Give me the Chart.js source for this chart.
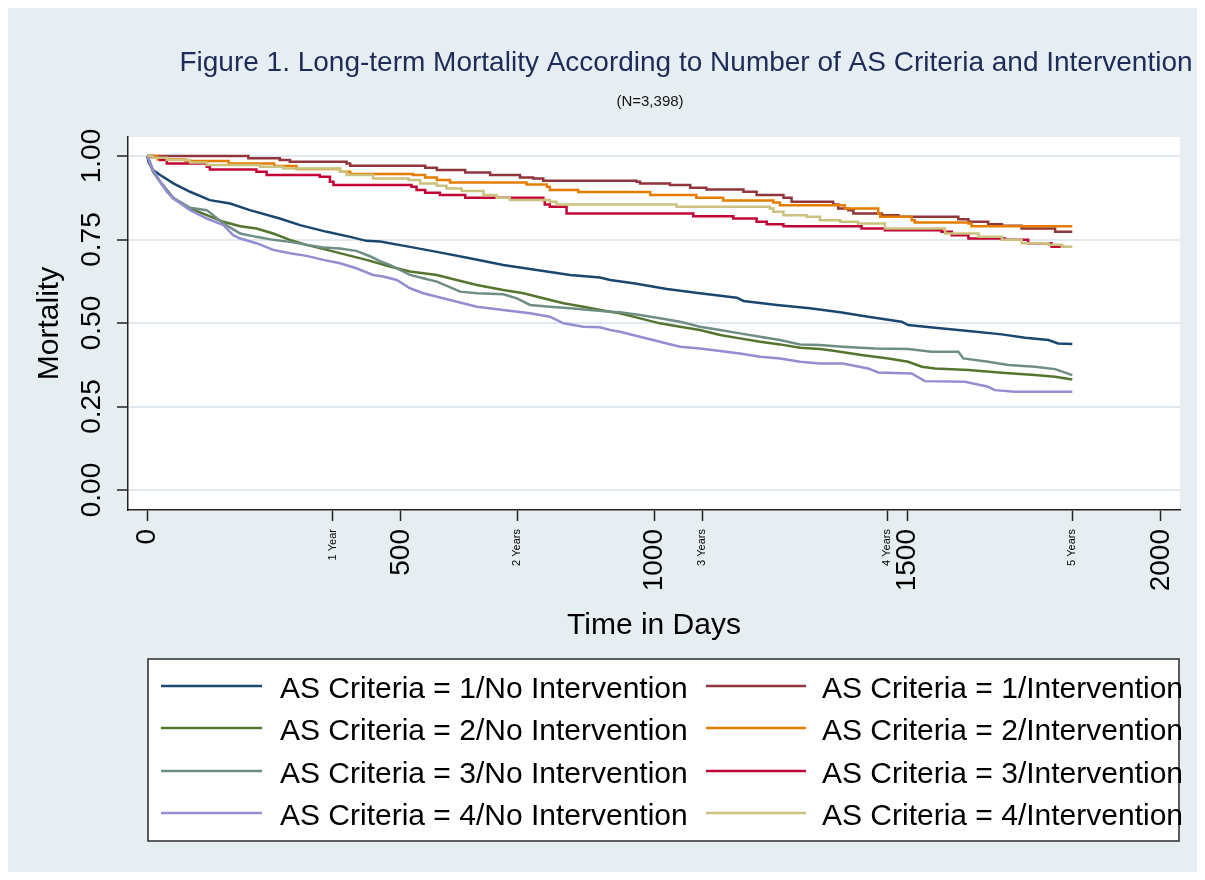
<!DOCTYPE html>
<html>
<head>
<meta charset="utf-8">
<title>Long-term Mortality According to Number of AS Criteria and Intervention</title>
<script src="https://cdn.jsdelivr.net/npm/chart.js@4.4.1/dist/chart.umd.min.js"></script>
<style>
  html, body { margin: 0; padding: 0; background: #ffffff; }
  #wrap { width: 1205px; height: 880px; position: relative; }
  canvas { display: block; }
</style>
</head>
<body>
<div id="wrap"><canvas id="km" width="1205" height="880"></canvas></div>
<script>
// Kaplan-Meier estimates: [day, survival proportion]
const as1NoIntervention = [[0,1],[2,.983],[11,.958],[25,.943],[51,.918],[84,.893],[123,.868],[163,.858],[202,.838],[261,.813],[301,.793],[354,.773],[400,.758],[432,.746],[459,.744],[518,.728],[571,.713],[636,.694],[702,.674],[768,.659],[834,.644],[893,.636],[913,.629],[959,.619],[1025,.602],[1090,.589],[1163,.576],[1176,.566],[1242,.554],[1307,.544],[1367,.532],[1422,.519],[1488,.504],[1501,.494],[1554,.486],[1620,.476],[1686,.466],[1732,.456],[1778,.449],[1797,.439],[1825,.437]];
const as2NoIntervention = [[0,1],[11,.953],[25,.923],[51,.873],[84,.843],[117,.823],[150,.803],[183,.790],[215,.783],[248,.768],[281,.749],[314,.734],[354,.719],[393,.704],[432,.689],[478,.669],[518,.654],[571,.644],[610,.629],[650,.614],[702,.599],[742,.589],[781,.574],[821,.559],[860,.549],[913,.534],[932,.529],[972,.514],[1011,.499],[1051,.489],[1090,.479],[1130,.464],[1169,.454],[1209,.444],[1248,.436],[1288,.426],[1327,.422],[1350,.418],[1409,.404],[1462,.394],[1501,.384],[1528,.369],[1554,.364],[1620,.359],[1686,.351],[1751,.344],[1791,.339],[1825,.331]];
const as3NoIntervention = [[0,1],[11,.953],[25,.923],[51,.875],[84,.845],[117,.838],[150,.798],[183,.768],[215,.758],[248,.749],[281,.743],[314,.734],[347,.726],[380,.723],[412,.716],[439,.700],[459,.685],[478,.674],[518,.644],[544,.634],[571,.624],[617,.594],[650,.589],[702,.586],[729,.574],[755,.554],[794,.549],[834,.544],[873,.539],[913,.534],[932,.532],[972,.524],[1011,.514],[1051,.504],[1090,.489],[1130,.479],[1169,.469],[1209,.459],[1248,.449],[1288,.436],[1327,.434],[1372,.429],[1436,.424],[1501,.422],[1547,.414],[1600,.414],[1610,.394],[1659,.384],[1699,.374],[1751,.369],[1791,.362],[1825,.344]];
const as4NoIntervention = [[0,1],[11,.958],[25,.923],[38,.893],[51,.873],[84,.838],[117,.813],[150,.793],[169,.763],[183,.753],[215,.739],[248,.719],[281,.709],[314,.701],[347,.689],[380,.679],[412,.664],[445,.644],[465,.639],[492,.629],[518,.604],[544,.589],[597,.569],[650,.549],[702,.539],[755,.529],[794,.519],[821,.499],[860,.489],[893,.487],[913,.479],[932,.474],[972,.459],[1011,.444],[1051,.429],[1090,.424],[1130,.416],[1169,.409],[1209,.399],[1248,.394],[1288,.384],[1327,.379],[1372,.379],[1422,.364],[1442,.352],[1508,.349],[1534,.326],[1613,.324],[1659,.309],[1672,.299],[1712,.294],[1825,.294]];
const as1Intervention = [[0,1],[199,.993],[261,.988],[281,.983],[393,.978],[400,.971],[548,.965],[571,.958],[627,.951],[676,.943],[735,.936],[761,.933],[781,.926],[965,.923],[972,.918],[1031,.913],[1071,.905],[1103,.900],[1176,.893],[1202,.883],[1255,.875],[1271,.863],[1353,.855],[1363,.843],[1383,.838],[1393,.828],[1449,.823],[1482,.818],[1600,.811],[1620,.803],[1659,.796],[1686,.791],[1725,.783],[1791,.773],[1825,.773]];
const as2Intervention = [[0,1],[20,.990],[75,.985],[160,.978],[250,.970],[294,.961],[380,.953],[400,.946],[524,.943],[548,.936],[571,.928],[597,.921],[748,.915],[788,.908],[794,.898],[850,.892],[992,.883],[1083,.875],[1136,.867],[1235,.861],[1248,.853],[1376,.843],[1442,.828],[1446,.818],[1508,.808],[1514,.801],[1620,.798],[1626,.790],[1825,.790]];
const as3Intervention = [[0,1],[10,.995],[25,.988],[38,.978],[117,.968],[123,.960],[215,.953],[235,.943],[340,.938],[360,.923],[367,.913],[521,.908],[531,.898],[548,.890],[577,.883],[627,.875],[781,.868],[784,.855],[794,.848],[827,.828],[1077,.820],[1156,.813],[1202,.803],[1222,.796],[1255,.790],[1409,.783],[1455,.778],[1567,.773],[1587,.763],[1620,.753],[1692,.749],[1738,.739],[1784,.728],[1810,.728]];
const as4Intervention = [[0,1],[10,.995],[38,.988],[84,.981],[117,.973],[222,.968],[268,.963],[380,.953],[393,.943],[445,.933],[515,.928],[538,.918],[571,.911],[590,.903],[620,.895],[663,.883],[689,.875],[715,.868],[794,.863],[807,.855],[1044,.848],[1228,.843],[1235,.833],[1255,.823],[1301,.818],[1327,.808],[1367,.803],[1402,.798],[1455,.783],[1574,.768],[1640,.758],[1686,.749],[1725,.739],[1778,.734],[1804,.728],[1825,.728]];

const seriesLabels = [
  'AS Criteria = 1/No Intervention', 'AS Criteria = 1/Intervention',
  'AS Criteria = 2/No Intervention', 'AS Criteria = 2/Intervention',
  'AS Criteria = 3/No Intervention', 'AS Criteria = 3/Intervention',
  'AS Criteria = 4/No Intervention', 'AS Criteria = 4/Intervention'
];
const seriesData = [as1NoIntervention, as1Intervention, as2NoIntervention, as2Intervention,
                    as3NoIntervention, as3Intervention, as4NoIntervention, as4Intervention];
const seriesColors = ['#1a476f', '#90353b', '#55752f', '#e37e00', '#6e8e84', '#c10534', '#938dd2', '#cac27e'];
const seriesStepped = [false, true, false, true, false, true, false, true];

const xTickValues = [0, 365, 500, 730, 1000, 1095, 1460, 1500, 1825, 2000];
const xTickLabels = ['0', '1 Year', '500', '2 Years', '1000', '3 Years', '4 Years', '1500', '5 Years', '2000'];
const yTickValues = [0, 0.25, 0.5, 0.75, 1];
const yTickLabels = ['0.00', '0.25', '0.50', '0.75', '1.00'];

const chartTitle = 'Figure 1. Long-term Mortality According to Number of AS Criteria and Intervention';
const chartSubtitle = '(N=3,398)';

const FONT = '"Liberation Sans", Arial, Helvetica, sans-serif';
const yearTicks = new Set([365, 730, 1095, 1460, 1825]);

const datasets = seriesData.map((pts, i) => ({
  label: seriesLabels[i],
  data: pts.map(p => ({ x: p[0], y: p[1] })),
  borderColor: seriesColors[i],
  backgroundColor: seriesColors[i],
  borderWidth: 2.5,
  stepped: seriesStepped[i] ? 'before' : false,
  pointRadius: 0,
  fill: false,
  order: seriesData.length - 1 - i
}));

// Page background, framed graph region and white plot region
const backgroundPlugin = {
  id: 'regions',
  beforeDraw(chart) {
    const { ctx, chartArea } = chart;
    ctx.save();
    ctx.fillStyle = '#ffffff';
    ctx.fillRect(0, 0, chart.width, chart.height);
    ctx.fillStyle = '#e7eef2';
    ctx.fillRect(8, 8, chart.width - 16, chart.height - 16);
    ctx.fillStyle = '#ffffff';
    ctx.fillRect(chartArea.left, chartArea.top, chartArea.right - chartArea.left, chartArea.bottom - chartArea.top);
    ctx.restore();
  }
};

// Titles, rotated y tick labels and the boxed two-column legend
const annotationPlugin = {
  id: 'annotations',
  afterDraw(chart) {
    const { ctx } = chart;
    const yScale = chart.scales.y;
    ctx.save();

    ctx.fillStyle = '#1c2b58';
    ctx.font = '28px ' + FONT;
    ctx.textAlign = 'center';
    ctx.textBaseline = 'alphabetic';
    ctx.fillText(chartTitle, 686, 71);

    ctx.fillStyle = '#111111';
    ctx.font = '15px ' + FONT;
    ctx.fillText(chartSubtitle, 650, 106);

    ctx.font = '28px ' + FONT;
    ctx.fillStyle = '#000000';
    ctx.textBaseline = 'middle';
    yTickValues.forEach((v, i) => {
      const py = yScale.getPixelForValue(v);
      ctx.save();
      ctx.translate(92, py);
      ctx.rotate(-Math.PI / 2);
      ctx.fillText(yTickLabels[i], 0, 0);
      ctx.restore();
    });

    // legend box
    const box = { left: 148, top: 659, right: 1179, bottom: 841 };
    ctx.fillStyle = '#ffffff';
    ctx.fillRect(box.left, box.top, box.right - box.left, box.bottom - box.top);
    ctx.strokeStyle = '#2a2a2a';
    ctx.lineWidth = 1.5;
    ctx.strokeRect(box.left, box.top, box.right - box.left, box.bottom - box.top);

    const cols = [{ x0: 161, x1: 262, tx: 280 }, { x0: 706, x1: 806, tx: 822 }];
    const rows = [686, 728, 771, 813];
    ctx.font = '30px ' + FONT;
    ctx.textAlign = 'left';
    ctx.textBaseline = 'alphabetic';
    chart.data.datasets.forEach((ds, i) => {
      const c = cols[i % 2];
      const ry = rows[Math.floor(i / 2)];
      ctx.strokeStyle = ds.borderColor;
      ctx.lineWidth = 2.5;
      ctx.beginPath();
      ctx.moveTo(c.x0, ry);
      ctx.lineTo(c.x1, ry);
      ctx.stroke();
      ctx.fillStyle = '#000000';
      ctx.fillText(ds.label, c.tx, ry + 12);
    });
    ctx.restore();
  }
};

function draw() {
  new Chart(document.getElementById('km'), {
    type: 'line',
    data: { datasets },
    plugins: [backgroundPlugin, annotationPlugin],
    options: {
      responsive: false,
      animation: false,
      layout: { padding: { left: 0, top: 137, right: 25, bottom: 220 } },
      plugins: {
        legend: { display: false },
        title: { display: false },
        tooltip: { enabled: false }
      },
      scales: {
        x: {
          type: 'linear',
          min: -38.5,
          max: 2037.5,
          afterBuildTicks: (scale) => { scale.ticks = xTickValues.map(v => ({ value: v })); },
          afterFit: (scale) => { scale.height = 150; },
          ticks: {
            autoSkip: false,
            minRotation: 90,
            maxRotation: 90,
            padding: 8,
            color: '#000000',
            font: (c) => ({ family: FONT, size: (c.tick && yearTicks.has(c.tick.value)) ? 11 : 28 }),
            callback: (value) => {
              const k = xTickValues.indexOf(value);
              return k >= 0 ? xTickLabels[k] : '';
            }
          },
          grid: { drawOnChartArea: false, drawTicks: true, tickLength: 11, tickColor: '#222222', tickWidth: 1.5 },
          border: { display: true, color: '#222222', width: 1.5 },
          title: {
            display: true,
            text: 'Time in Days',
            color: '#000000',
            font: { family: FONT, size: 30, lineHeight: 1.2 },
            padding: { top: 0, bottom: 16 }
          }
        },
        y: {
          type: 'linear',
          min: -0.0599,
          max: 1.057,
          afterBuildTicks: (scale) => { scale.ticks = yTickValues.map(v => ({ value: v })); },
          afterFit: (scale) => { scale.width = 128; },
          ticks: { display: false },
          grid: { drawOnChartArea: true, color: '#e2e9ee', lineWidth: 2, drawTicks: true, tickLength: 11, tickColor: '#222222', tickWidth: 1.5 },
          border: { display: true, color: '#222222', width: 1.5 },
          title: {
            display: true,
            text: 'Mortality',
            color: '#000000',
            font: { family: FONT, size: 30, lineHeight: 1.2 },
            padding: { top: 32, bottom: 0 }
          }
        }
      }
    }
  });
}

if (document.fonts && document.fonts.load) {
  Promise.all([
    document.fonts.load('28px "Liberation Sans"'),
    document.fonts.load('11px "Liberation Sans"')
  ]).then(draw, draw);
} else {
  draw();
}
</script>
</body>
</html>
